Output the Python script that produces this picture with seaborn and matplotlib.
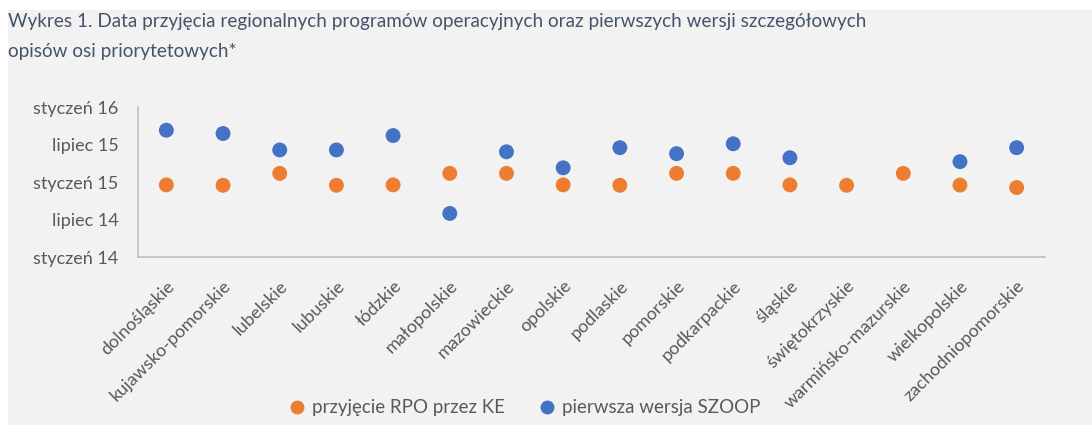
import pandas as pd
import matplotlib
matplotlib.use("Agg")
import matplotlib.pyplot as plt
import matplotlib.dates as mdates
from matplotlib.patches import Rectangle
import seaborn as sns

# --- data ---
regions = [
    "dolnośląskie", "kujawsko-pomorskie", "lubelskie", "lubuskie", "łódzkie",
    "małopolskie", "mazowieckie", "opolskie", "podlaskie", "pomorskie",
    "podkarpackie", "śląskie", "świętokrzyskie", "warmińsko-mazurskie",
    "wielkopolskie", "zachodniopomorskie",
]
rpo_dates = [
    "2014-12-18", "2014-12-16", "2015-02-12", "2014-12-16", "2014-12-18",
    "2015-02-12", "2015-02-12", "2014-12-18", "2014-12-16", "2015-02-12",
    "2015-02-12", "2014-12-18", "2014-12-16", "2015-02-12",
    "2014-12-17", "2014-12-05",
]
szoop_dates = [
    "2015-09-10", "2015-08-25", "2015-06-06", "2015-06-06", "2015-08-15",
    "2014-08-01", "2015-05-28", "2015-03-11", "2015-06-17", "2015-05-19",
    "2015-07-06", "2015-04-29", None, None,
    "2015-04-10", "2015-06-17",
]
series_names = ["przyjęcie RPO przez KE", "pierwsza wersja SZOOP"]
series_colors = ["#ED7D31", "#4472C4"]
ytick_dates = ["2014-01-01", "2014-07-01", "2015-01-01", "2015-07-01", "2016-01-01"]
ytick_labels = ["styczeń 14", "lipiec 14", "styczeń 15", "lipiec 15", "styczeń 16"]
title = ("Wykres 1. Data przyjęcia regionalnych programów operacyjnych oraz pierwszych wersji szczegółowych\n"
         "opisów osi priorytetowych*")

df = pd.concat([
    pd.DataFrame({"region": regions, "seria": series_names[0], "data": rpo_dates}),
    pd.DataFrame({"region": regions, "seria": series_names[1], "data": szoop_dates}),
]).dropna()
df["data"] = pd.to_datetime(df["data"])

sns.set_style("white")
plt.rcParams["font.family"] = ["Lato", "DejaVu Sans"]

fig = plt.figure(figsize=(10.92, 4.25), dpi=100)
fig.patch.set_facecolor("white")
fig.patches.append(Rectangle((8 / 1092, 0), 1, 1 - 10 / 425, transform=fig.transFigure,
                             facecolor="#F2F2F2", edgecolor="none", zorder=-10))

ax = fig.add_axes([138 / 1092, 1 - 257 / 425, 907 / 1092, 150 / 425])
ax.set_facecolor("#F2F2F2")

sns.scatterplot(data=df, x="region", y="data", hue="seria", hue_order=series_names,
                palette=series_colors, s=115, edgecolor="none", ax=ax, legend=False, zorder=3)

ax.set_xlim(-0.5, len(regions) - 0.5)
yt = pd.to_datetime(ytick_dates)
ax.set_ylim(mdates.date2num(yt[0]), mdates.date2num(yt[-1]))
ax.set_yticks(mdates.date2num(yt))
ax.set_yticklabels(ytick_labels, fontsize=13, color="#595959")
ax.set_xticks(range(len(regions)))
ax.set_xticklabels(regions, rotation=45, ha="right", rotation_mode="anchor",
                   fontsize=13, color="#595959")
ax.tick_params(axis="x", length=0, pad=15)
ax.tick_params(axis="y", length=0, pad=14)
ax.set_xlabel("")
ax.set_ylabel("")
for side in ["top", "right"]:
    ax.spines[side].set_visible(False)
for side in ["left", "bottom"]:
    ax.spines[side].set_color("#BFBFBF")
    ax.spines[side].set_linewidth(1.2)

fig.text(8 / 1092, 1 - 13 / 425, title, ha="left", va="top", fontsize=13.6,
         color="#44546A", linespacing=1.95)

handles = [plt.Line2D([], [], marker="o", linestyle="none", markersize=10,
                      markerfacecolor=c, markeredgecolor="none") for c in series_colors]
fig.legend(handles, series_names, loc="center", bbox_to_anchor=(524 / 1092, 1 - 408 / 425),
           ncol=2, frameon=False, fontsize=13.5, labelcolor="#595959",
           handletextpad=0.3, columnspacing=1.7, handlelength=1)

fig.savefig("out.png", dpi=100)
